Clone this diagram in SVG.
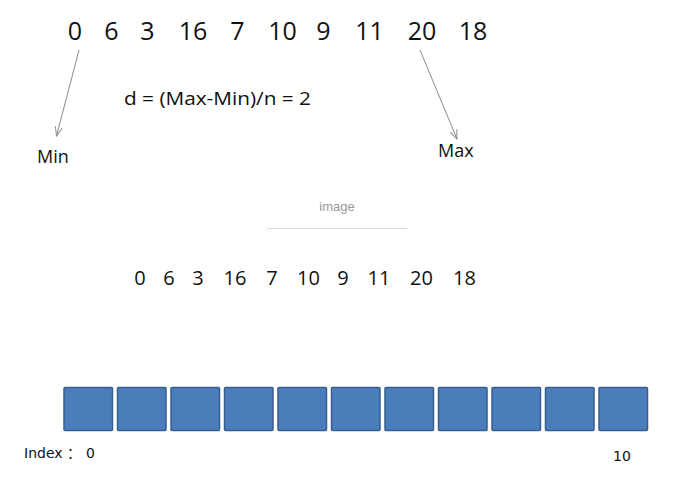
<svg xmlns="http://www.w3.org/2000/svg" width="677" height="489" viewBox="0 0 677 489">
<style>
.num{font-family:"Open Sans","Liberation Sans",sans-serif;font-size:25px;fill:#111;text-anchor:middle}
.num2{font-family:"Open Sans","Liberation Sans",sans-serif;font-size:20px;fill:#111;text-anchor:middle}
.lbl{font-family:"Open Sans","Liberation Sans","Noto Sans CJK SC",sans-serif;fill:#111}
.idx{font-family:"DejaVu Sans","Noto Sans CJK SC",sans-serif;font-size:14px;fill:#111}
.box{fill:#4a7ebb;stroke:#385f8c;stroke-width:1.5}
.conn{stroke:#8a8a8a;stroke-width:1;fill:none}
</style>
<defs>
<marker id="v" viewBox="0 0 10 10" refX="9" refY="5" markerWidth="10" markerHeight="10" orient="auto" markerUnits="userSpaceOnUse">
<polyline points="0,1.5 9,5 0,8.5" fill="none" stroke="#8a8a8a" stroke-width="1"/>
</marker>
</defs>
<rect width="677" height="489" fill="#fff"/>
<g id="top-row">
<text class="num" x="75" y="40">0</text>
<text class="num" x="111.5" y="40">6</text>
<text class="num" x="147.5" y="40">3</text>
<text class="num" x="193" y="40">16</text>
<text class="num" x="237.5" y="40">7</text>
<text class="num" x="282.5" y="40">10</text>
<text class="num" x="323.5" y="40">9</text>
<text class="num" x="369.5" y="40">11</text>
<text class="num" x="422" y="40">20</text>
<text class="num" x="473" y="40">18</text>
</g>
<g id="connectors">
<line class="conn" x1="79" y1="50" x2="56.5" y2="136" marker-end="url(#v)"/>
<line class="conn" x1="420" y1="50" x2="457" y2="139" marker-end="url(#v)"/>
</g>
<g id="min"><text class="lbl" x="37" y="163" font-size="18">Min</text></g>
<g id="max"><text class="lbl" x="438" y="157" font-size="18">Max</text></g>
<g id="formula"><text class="lbl" x="124" y="105" font-size="19" textLength="187" lengthAdjust="spacingAndGlyphs">d = (Max-Min)/n = 2</text></g>
<g id="caption">
<text x="337" y="211" font-family="'Liberation Sans',Arial,sans-serif" font-size="13" fill="#999" text-anchor="middle">image</text>
<line x1="267" y1="228.5" x2="407" y2="228.5" stroke="#d9d9d9" stroke-width="1"/>
</g>
<g id="second-row">
<text class="num2" x="140" y="285">0</text>
<text class="num2" x="169" y="285">6</text>
<text class="num2" x="198" y="285">3</text>
<text class="num2" x="235" y="285">16</text>
<text class="num2" x="272" y="285">7</text>
<text class="num2" x="308.5" y="285">10</text>
<text class="num2" x="343" y="285">9</text>
<text class="num2" x="379" y="285">11</text>
<text class="num2" x="421.5" y="285">20</text>
<text class="num2" x="464.5" y="285">18</text>
</g>
<g id="bucket-0"><rect class="box" x="64" y="387.5" width="48.5" height="43" rx="1"/></g>
<g id="bucket-1"><rect class="box" x="117.5" y="387.5" width="48.5" height="43" rx="1"/></g>
<g id="bucket-2"><rect class="box" x="171" y="387.5" width="48.5" height="43" rx="1"/></g>
<g id="bucket-3"><rect class="box" x="224.5" y="387.5" width="48.5" height="43" rx="1"/></g>
<g id="bucket-4"><rect class="box" x="278" y="387.5" width="48.5" height="43" rx="1"/></g>
<g id="bucket-5"><rect class="box" x="331.5" y="387.5" width="48.5" height="43" rx="1"/></g>
<g id="bucket-6"><rect class="box" x="385" y="387.5" width="48.5" height="43" rx="1"/></g>
<g id="bucket-7"><rect class="box" x="438.5" y="387.5" width="48.5" height="43" rx="1"/></g>
<g id="bucket-8"><rect class="box" x="492" y="387.5" width="48.5" height="43" rx="1"/></g>
<g id="bucket-9"><rect class="box" x="545.5" y="387.5" width="48.5" height="43" rx="1"/></g>
<g id="bucket-10"><rect class="box" x="599" y="387.5" width="48.5" height="43" rx="1"/></g>
<g id="index-label"><text class="idx" x="24" y="458">Index<tspan x="67">：</tspan><tspan x="86">0</tspan></text></g>
<g id="index-10"><text class="idx" x="613" y="461">10</text></g>
</svg>
